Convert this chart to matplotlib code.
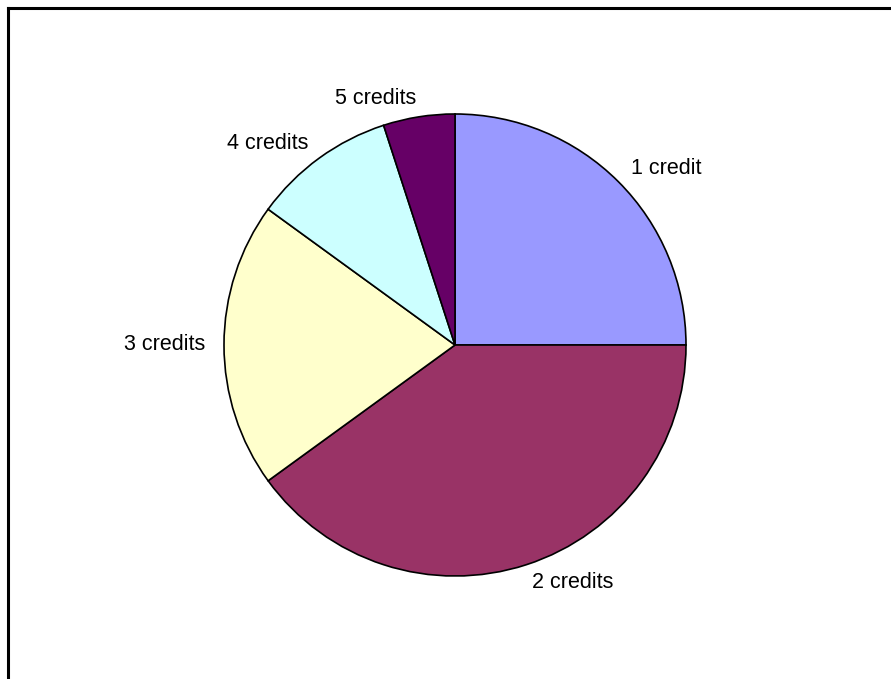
import matplotlib
matplotlib.use("Agg")
import matplotlib.pyplot as plt

# credit categories and their share (%)
labels = ["1 credit", "2 credits", "3 credits", "4 credits", "5 credits"]
shares = [25, 40, 20, 10, 5]
colors = ["#9999FF", "#993366", "#FFFFCC", "#CCFFFF", "#660066"]

plt.rcParams['font.family'] = ['Liberation Sans', 'DejaVu Sans']

fig = plt.figure(figsize=(8.91, 6.79), dpi=100)
fig.patch.set_facecolor("white")

# chart frame: only left and top edges are visible
fig.add_artist(plt.Line2D([8/891, 8/891], [0, 1 - 8/679], color="black", lw=2.2, transform=fig.transFigure))
fig.add_artist(plt.Line2D([8/891, 1], [1 - 8/679, 1 - 8/679], color="black", lw=2.2, transform=fig.transFigure))

cx, cy, r = 455, 345, 231
ax = fig.add_axes([(cx - r) / 891, (679 - cy - r) / 679, 2 * r / 891, 2 * r / 679])
wedges, texts = ax.pie(shares, labels=labels, colors=colors, startangle=90, counterclock=False,
                       labeldistance=1.08, radius=1,
                       wedgeprops=dict(edgecolor="black", linewidth=1.2),
                       textprops=dict(fontsize=15.5, color="black"))
ax.set_xlim(-1, 1)
ax.set_ylim(-1, 1)
ax.set_aspect("equal")
ax.axis("off")

fig.savefig("out.png", dpi=100)
